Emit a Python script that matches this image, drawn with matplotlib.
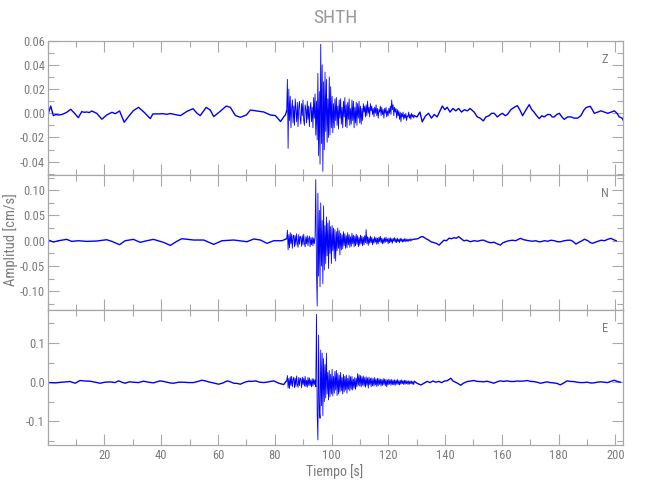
import numpy as np
import matplotlib
matplotlib.use("Agg")
import matplotlib.pyplot as plt
from matplotlib import font_manager
from matplotlib.ticker import MultipleLocator, FormatStrFormatter

# ---------------- data ----------------
# Z component: quiet part (pre-event)
z_t_pre = [0.0, 0.23, 1.05, 1.99, 2.90, 3.76, 4.62, 5.53, 6.70, 8.11, 9.27, 10.78, 12.0, 12.9, 13.71,
           14.62, 15.53, 17.25, 19.07, 20.79, 22.61, 23.82, 25.33, 26.95, 28.47, 30.19, 32.0, 33.72,
           36.15, 37.06, 39.08, 40.49, 42.01, 43.22, 44.33, 46.76, 49.08, 51.21, 52.62, 53.73, 55.85,
           57.27, 58.48, 60.20, 62.93, 64.34, 66.16, 67.88, 70.0, 71.42, 73.74, 76.07, 78.49, 80.21,
           82.03, 83.14, 83.75, 84.2]
z_v_pre = [0.0, 0.0, 0.006, -0.0019, -0.001, -0.0014, -0.0012, -0.0005, 0.0008, 0.0033, 0.0005,
           -0.0036, 0.0014, 0.0008, 0.0011, 0.0006, 0.0019, 0.0, -0.0049, -0.0014, 0.0008, -0.0003,
           0.0019, -0.0074, -0.0027, 0.0022, 0.0049, 0.0014, -0.0044, -0.0005, -0.0005, -0.0003,
           -0.0008, -0.0002, -0.0008, -0.0019, 0.0016, 0.0038, 0.0, -0.0019, 0.0049, 0.0027, -0.0027,
           0.0005, 0.006, 0.0049, -0.0019, -0.0033, -0.0014, 0.0027, 0.0019, 0.0011, -0.0014, -0.0019,
           -0.0068, -0.003, -0.0014, 0.002]
# Z component: event, sampled every 0.25 s from 84.2 s
z_v_evt = [0.002, 0.028, -0.029, 0.020,
           -0.006, 0.014, -0.012, 0.004,
           0.011, -0.008, 0.006, -0.010,
           0.012, 0.002, -0.007, 0.009,
           -0.011, 0.005, 0.010, -0.004,
           -0.009, 0.008, -0.002, 0.011,
           -0.006, -0.010, 0.007, 0.003,
           -0.008, 0.010, -0.005, 0.006,
           -0.011, 0.004, 0.009, -0.007,
           0.005, -0.012, 0.013, -0.004,
           0.016, -0.018, 0.010, -0.022,
           0.033, -0.035, 0.018, -0.042,
           0.057, -0.025, 0.040, -0.048,
           0.026, -0.030, 0.034, -0.015,
           0.028, -0.024, 0.012, -0.020,
           0.030, -0.018, 0.022, -0.012,
           0.014, -0.016, 0.008, -0.012,
           0.012, -0.006, 0.013, -0.010,
           0.006, -0.013, 0.011, -0.004,
           0.012, -0.009, 0.005, -0.012,
           0.010, -0.003, 0.013, -0.011,
           0.007, -0.012, 0.009, -0.005,
           0.012, -0.010, 0.004, -0.009,
           0.011, -0.006, 0.010, -0.012,
           0.005, -0.008, 0.009, -0.010,
           0.008, -0.004, 0.010, -0.008,
           0.006, -0.009, 0.004, -0.006,
           0.008, 0.001, 0.006, -0.003,
           0.007, -0.002, 0.010, 0.000,
           0.005, -0.003, 0.008, 0.002,
           0.006, -0.001, 0.004, -0.003,
           0.005, 0.000, 0.007, -0.002,
           0.004, -0.004, 0.003, 0.001,
           0.006, -0.002, 0.005, -0.001,
           0.003, -0.004, 0.004, 0.000,
           0.005, -0.003, 0.002, -0.002,
           0.004, 0.000, 0.006, -0.001,
           0.011, 0.003, 0.007, -0.002,
           0.005, 0.001, 0.004, -0.004,
           0.003, -0.002, 0.002, -0.005,
           0.001, -0.007, 0.000, -0.003,
           0.001, -0.005, -0.001, -0.004,
           0.000, -0.006, -0.002, -0.003,
           0.001, -0.004, -0.001, -0.005,
           0.000, -0.003, -0.001, -0.004,
           -0.002]
z_t_post = [129.2, 130.13, 131.14, 131.95, 133.16, 134.18, 135.19, 136.2, 137.21, 138.22, 139.03, 139.94,
            140.74, 141.76, 142.77, 143.78, 144.79, 145.8, 146.81, 147.82, 148.83, 150.24, 151.36,
            152.37, 153.48, 154.39, 155.5, 156.41, 157.32, 158.43, 159.44, 160.25, 161.16, 161.97,
            163.18, 164.39, 165.5, 166.52, 167.32, 168.54, 169.65, 170.56, 171.37, 172.28, 173.19,
            174.09, 174.9, 176.12, 177.03, 177.73, 178.44, 179.35, 180.26, 181.17, 181.98, 183.19,
            184.3, 185.51, 186.73, 187.84, 188.75, 189.66, 191.17, 191.88, 192.59, 193.8, 194.91,
            196.13, 197.34, 198.55, 199.66, 200.57, 201.38, 202.39, 202.8]
z_v_post = [-0.002, -0.003, 0.001, -0.007, -0.002, 0.0, -0.004, -0.001, -0.003, 0.002, 0.006, 0.003,
            0.005, 0.001, 0.004, 0.002, 0.004, 0.001, 0.003, 0.002, 0.004, 0.001, -0.003, -0.004,
            -0.0063, -0.003, -0.002, 0.0, 0.0, -0.003, -0.001, 0.0, -0.002, -0.001, 0.003, 0.005,
            0.0063, 0.002, -0.002, 0.003, 0.0071, 0.003, 0.001, -0.002, -0.0044, -0.002, -0.003,
            -0.001, -0.001, -0.003, -0.003, -0.001, 0.0, -0.003, -0.005, -0.003, -0.003, -0.004,
            -0.004, -0.002, 0.002, 0.0047, 0.0058, 0.003, 0.0, 0.001, 0.002, 0.001, 0.0, 0.001,
            0.002, 0.0, -0.003, -0.004, -0.006]

# N component
n_t_pre = [0.0, 0.23, 1.99, 3.76, 6.70, 8.46, 10.78, 13.71, 17.25, 20.79, 22.61, 25.33, 27.25, 30.19,
           32.61, 34.93, 37.26, 40.80, 43.22, 45.55, 47.26, 51.41, 54.94, 58.48, 61.41, 65.56, 70.20,
           72.63, 74.95, 77.28, 79.60, 82.53, 84.2]
n_v_pre = [0.001, 0.0014, -0.0026, 0.0, 0.0027, -0.0013, 0.0, -0.0013, -0.0006, 0.002, -0.0013,
           -0.0079, 0.0, 0.0027, -0.0032, 0.0, 0.0027, -0.0032, -0.0092, -0.001, 0.004, 0.0014,
           0.0014, -0.0072, 0.0, 0.0014, -0.0019, 0.0034, 0.0014, -0.0052, 0.0, 0.0, 0.004]
n_v_evt = [0.004, 0.021, -0.018, 0.012,
           -0.014, 0.016, -0.006, 0.013,
           -0.015, 0.008, 0.011, -0.012,
           0.010, -0.009, 0.014, -0.004,
           -0.013, 0.012, -0.007, 0.009,
           0.006, -0.011, 0.010, -0.008,
           0.013, -0.005, -0.012, 0.008,
           -0.006, 0.010, -0.010, 0.004,
           0.009, -0.012, 0.006, -0.008,
           0.007, -0.010, 0.005, -0.006,
           0.008, 0.121, -0.060, -0.129,
           0.094, -0.070, 0.060, -0.091,
           0.075, -0.050, 0.040, -0.085,
           0.069, -0.058, 0.030, -0.045,
           0.047, -0.030, 0.035, -0.055,
           0.040, -0.025, 0.028, -0.045,
           0.030, -0.020, 0.025, -0.035,
           0.022, -0.040, 0.018, -0.020,
           0.025, -0.015, 0.020, -0.028,
           0.015, -0.018, 0.012, -0.016,
           0.018, -0.010, 0.014, -0.015,
           0.010, -0.014, 0.016, -0.008,
           0.012, -0.013, 0.008, -0.011,
           0.015, -0.006, 0.011, -0.012,
           0.009, -0.010, 0.013, -0.007,
           0.010, -0.012, 0.006, -0.009,
           0.011, -0.006, 0.009, -0.010,
           0.007, -0.008, 0.010, -0.004,
           0.022, -0.006, 0.008, -0.009,
           0.006, -0.005, 0.009, -0.004,
           0.007, -0.008, 0.004, -0.005,
           0.008, -0.003, 0.006, -0.007,
           0.005, -0.006, 0.007, -0.002,
           0.009, -0.004, 0.005, -0.006,
           0.004, -0.005, 0.006, -0.003,
           0.007, -0.002, 0.004, -0.006,
           0.005, -0.004, 0.006, -0.003,
           0.004, -0.005, 0.005, -0.001,
           0.006, -0.003, 0.004, -0.004,
           0.005, -0.002, 0.003, -0.004,
           0.005, -0.001, 0.004, -0.003,
           0.003, -0.002, 0.004, -0.002,
           0.004, -0.001, 0.003, -0.002,
           0.003, 0.000, 0.004, -0.001,
           0.003, 0.001, 0.004, 0.002,
           0.003]
n_t_post = [129.2, 130.4, 131.6, 132.2, 133.3, 134.3, 135.0, 136.2, 137.2, 137.9, 138.7, 139.6, 140.5,
            141.4, 142.3, 143.2, 144.0, 144.8, 145.7, 146.6, 147.7, 148.9, 150.2, 151.5, 152.8, 153.7,
            154.8, 156.0, 157.3, 158.3, 159.5, 160.4, 161.3, 162.5, 163.7, 164.9, 165.9, 166.6,
            167.7, 168.6, 169.5, 170.8, 172.0, 173.0, 173.7, 175.0, 176.2, 177.3, 178.6, 179.6,
            180.7, 182.0, 183.2, 184.3, 185.2, 186.1, 187.2, 188.3, 189.1, 190.3, 191.3, 192.0,
            193.4, 195.0, 196.2, 197.4, 198.5, 199.4, 200.3]
n_v_post = [0.003, 0.004, 0.008, 0.008, 0.004, 0.001, -0.002, -0.004, -0.006, -0.0086, -0.004, 0.001,
            0.0, 0.005, 0.004, 0.006, 0.005, 0.008, 0.004, 0.0, 0.001, -0.002, 0.0, -0.001, 0.001,
            0.001, -0.002, -0.004, -0.003, -0.006, -0.0086, -0.004, -0.002, 0.0, 0.001, 0.0, 0.003,
            0.0047, 0.002, 0.001, 0.0, -0.001, 0.0, -0.002, -0.002, 0.0, -0.001, 0.001, 0.0, -0.002,
            -0.002, 0.0, 0.001, 0.001, -0.002, -0.0065, -0.003, 0.0, 0.003, 0.0, -0.004, -0.005,
            -0.002, 0.001, 0.0, 0.003, 0.0047, 0.002, 0.0]

# E component
e_t_pre = [0.0, 0.23, 2.58, 4.92, 7.85, 9.67, 11.39, 13.21, 14.92, 16.74, 18.46, 20.18, 22.0, 23.72,
           24.93, 26.14, 27.25, 28.77, 30.19, 32.0, 33.72, 35.54, 37.26, 38.47, 39.58, 40.80, 42.01,
           43.22, 44.33, 46.15, 47.87, 49.69, 51.41, 52.92, 54.34, 55.75, 56.66, 58.48, 60.20, 61.72,
           63.23, 64.34, 65.56, 66.67, 67.88, 69.40, 70.81, 72.02, 73.24, 74.65, 76.17, 77.88, 79.60,
           81.42, 83.14, 84.2]
e_v_pre = [-0.0005, -0.0009, -0.0017, 0.0, 0.0017, -0.0026, 0.0043, 0.003, 0.0026, 0.0, -0.0026,
           0.0, 0.0009, -0.001, 0.0034, 0.0, -0.0026, 0.001, 0.0, -0.001, 0.0026, 0.0, -0.0017,
           0.001, 0.0034, 0.002, 0.0, -0.002, -0.0026, 0.0, 0.0, -0.001, -0.0009, 0.002, 0.0051,
           0.003, 0.0009, -0.002, -0.0051, -0.002, 0.0034, 0.001, -0.0026, -0.003, -0.0051, 0.0,
           0.0026, 0.002, 0.0034, 0.0, -0.0009, 0.001, 0.0034, -0.0026, -0.006, 0.004]
e_v_evt = [0.004, 0.017, -0.015, 0.010,
           -0.016, 0.014, -0.008, 0.015,
           -0.012, 0.006, 0.013, -0.014,
           0.010, -0.011, 0.016, -0.005,
           -0.013, 0.012, -0.009, 0.011,
           0.007, -0.014, 0.013, -0.006,
           0.010, -0.010, 0.015, -0.011,
           0.005, -0.013, 0.012, -0.008,
           0.011, -0.009, 0.006, -0.012,
           0.009, -0.010, 0.008, -0.006,
           0.006, -0.012, 0.173, -0.080,
           -0.147, 0.120, -0.070, -0.092,
           0.082, -0.060, 0.074, -0.085,
           0.060, -0.050, 0.045, -0.040,
           0.074, -0.030, 0.025, -0.045,
           0.030, -0.037, 0.020, -0.030,
           0.033, -0.035, 0.015, -0.028,
           0.028, -0.020, 0.030, -0.034,
           0.022, -0.030, 0.018, -0.025,
           0.025, -0.022, 0.012, -0.030,
           0.020, -0.025, 0.015, -0.020,
           0.018, -0.028, 0.010, -0.018,
           0.017, -0.022, 0.014, -0.018,
           0.015, -0.020, 0.008, -0.015,
           0.012, -0.018, 0.010, -0.012,
           0.022, -0.008, 0.019, -0.010,
           0.017, -0.012, 0.014, -0.008,
           0.016, -0.010, 0.012, -0.013,
           0.014, -0.008, 0.011, -0.015,
           0.013, -0.006, 0.010, -0.012,
           0.011, -0.009, 0.009, -0.010,
           0.012, -0.007, 0.008, -0.011,
           0.010, -0.009, 0.009, -0.006,
           0.008, -0.010, 0.007, -0.008,
           0.009, -0.006, 0.008, -0.009,
           0.007, -0.012, 0.006, -0.007,
           0.008, -0.005, 0.006, -0.008,
           0.007, -0.006, 0.005, -0.007,
           0.006, -0.008, 0.005, -0.005,
           0.007, -0.006, 0.004, -0.007,
           0.005, -0.005, 0.006, -0.004,
           0.004, -0.006, 0.005, -0.005,
           0.005, -0.004, 0.003, -0.006,
           0.004, -0.005, 0.003, -0.004,
           0.003, -0.005, 0.002, -0.006,
           0.002]
e_t_post = [129.2, 130.2, 131.5, 132.7, 133.7, 134.7, 135.7, 136.7, 137.8, 138.8, 139.8, 140.8, 142.0,
            142.8, 144.4, 145.5, 146.6, 147.8, 149.0, 150.2, 151.3, 152.5, 153.6, 154.8, 156.0, 157.2,
            158.3, 159.5, 160.6, 161.8, 163.0, 164.2, 165.3, 166.5, 167.7, 168.9, 170.1, 171.2,
            172.4, 173.6, 174.7, 175.9, 177.1, 178.2, 179.4, 180.6, 181.8, 183.0, 184.1, 185.3,
            186.5, 187.7, 188.9, 190.1, 191.3, 192.4, 193.6, 194.8, 196.0, 197.2, 198.4, 199.6,
            200.7, 201.8]
e_v_post = [0.002, -0.003, -0.007, -0.002, 0.002, -0.001, 0.003, 0.0, 0.002, -0.001, 0.003, 0.004,
            0.010, 0.003, -0.0026, -0.0077, -0.002, 0.0017, 0.003, 0.0043, 0.002, 0.0017, 0.001,
            0.0026, 0.0, -0.0026, 0.001, 0.0034, 0.002, 0.0034, 0.002, 0.0017, 0.003, 0.0026, 0.003,
            0.0043, 0.002, 0.0017, 0.0, -0.0026, -0.001, 0.0009, -0.001, -0.0017, -0.003, -0.0068,
            -0.002, 0.0034, 0.002, 0.0017, 0.0, -0.001, -0.0009, 0.0, -0.002, -0.0017, 0.0, 0.001,
            0.0, -0.001, 0.002, 0.005, 0.002, 0.0]

evt_t0 = 84.2
evt_dt = 0.25

components = ["Z", "N", "E"]
title = "SHTH"
xlabel = "Tiempo [s]"
ylabel = "Amplitud [cm/s]"
xlims = (0.0, 202.8)
ylims = [(-0.051, 0.060), (-0.137, 0.130), (-0.160, 0.184)]
ymajor = [0.02, 0.05, 0.1]
yminor = [0.01, 0.025, 0.05]
yfmt = ["%.2f", "%.2f", "%.1f"]

# ---------------- style ----------------
avail = {f.name for f in font_manager.fontManager.ttflist}
fam = "DejaVu Sans"
for cand in ["Liberation Sans Narrow", "Roboto Condensed", "Liberation Sans"]:
    if cand in avail:
        fam = cand
        break
plt.rcParams["font.family"] = [fam, "DejaVu Sans"]
plt.rcParams["axes.unicode_minus"] = True

GRAY_TXT = "#7c7c7c"
GRAY_AX = "#a8a8a8"
BLUE = "#0000ff"

fig = plt.figure(figsize=(6.5, 5.0), dpi=100)
W, H = 650.0, 500.0
left, right = 47.7, 623.3
tops = [40.7, 175.0, 310.0]
bots = [175.0, 310.0, 445.0]

traces = [
    (z_t_pre, z_v_pre, z_v_evt, z_t_post, z_v_post),
    (n_t_pre, n_v_pre, n_v_evt, n_t_post, n_v_post),
    (e_t_pre, e_v_pre, e_v_evt, e_t_post, e_v_post),
]

axes = []
for i in range(3):
    ax = fig.add_axes([left / W, 1 - bots[i] / H, (right - left) / W, (bots[i] - tops[i]) / H])
    axes.append(ax)
    tp, vp, ve, tq, vq = traces[i]
    te = evt_t0 + evt_dt * np.arange(len(ve))
    ax.plot(tp, vp, color=BLUE, lw=1.0)
    ax.plot(te, ve, color=BLUE, lw=0.6)
    ax.plot(tq, vq, color=BLUE, lw=1.0)
    ax.set_xlim(*xlims)
    ax.set_ylim(*ylims[i])
    ax.xaxis.set_major_locator(MultipleLocator(20))
    ax.xaxis.set_minor_locator(MultipleLocator(10))
    ax.yaxis.set_major_locator(MultipleLocator(ymajor[i]))
    ax.yaxis.set_minor_locator(MultipleLocator(yminor[i]))
    ax.yaxis.set_major_formatter(FormatStrFormatter(yfmt[i]))
    ax.tick_params(which="both", direction="in", top=True, right=True, color=GRAY_AX,
                   labelcolor=GRAY_TXT, labelsize=9, width=0.8)
    ax.tick_params(which="major", length=8, pad=2)
    ax.tick_params(which="minor", length=4)
    ax.tick_params(axis="x", which="major", pad=3)
    for s in ax.spines.values():
        s.set_color(GRAY_AX)
        s.set_linewidth(0.9)
    if i < 2:
        ax.tick_params(axis="x", labelbottom=False)
    ax.text(0.968, 0.86, components[i], transform=ax.transAxes, ha="center", va="center",
            color=GRAY_TXT, fontsize=9)

axes[2].set_xticks(np.arange(20, 201, 20))
axes[2].set_xticks(np.arange(0, 203, 10), minor=True)
axes[2].xaxis.set_major_formatter(FormatStrFormatter("%d"))

fig.text(335 / W, 1 - 18 / H, title, ha="center", va="center", color="#9a9a9a", fontsize=14)
fig.text(335 / W, 1 - 472 / H, xlabel, ha="center", va="center", color=GRAY_TXT, fontsize=10)
fig.text(11 / W, 1 - 240 / H, ylabel, ha="center", va="center", rotation=90,
         color=GRAY_TXT, fontsize=10.5)

fig.savefig("out.png", dpi=100, facecolor="white")
